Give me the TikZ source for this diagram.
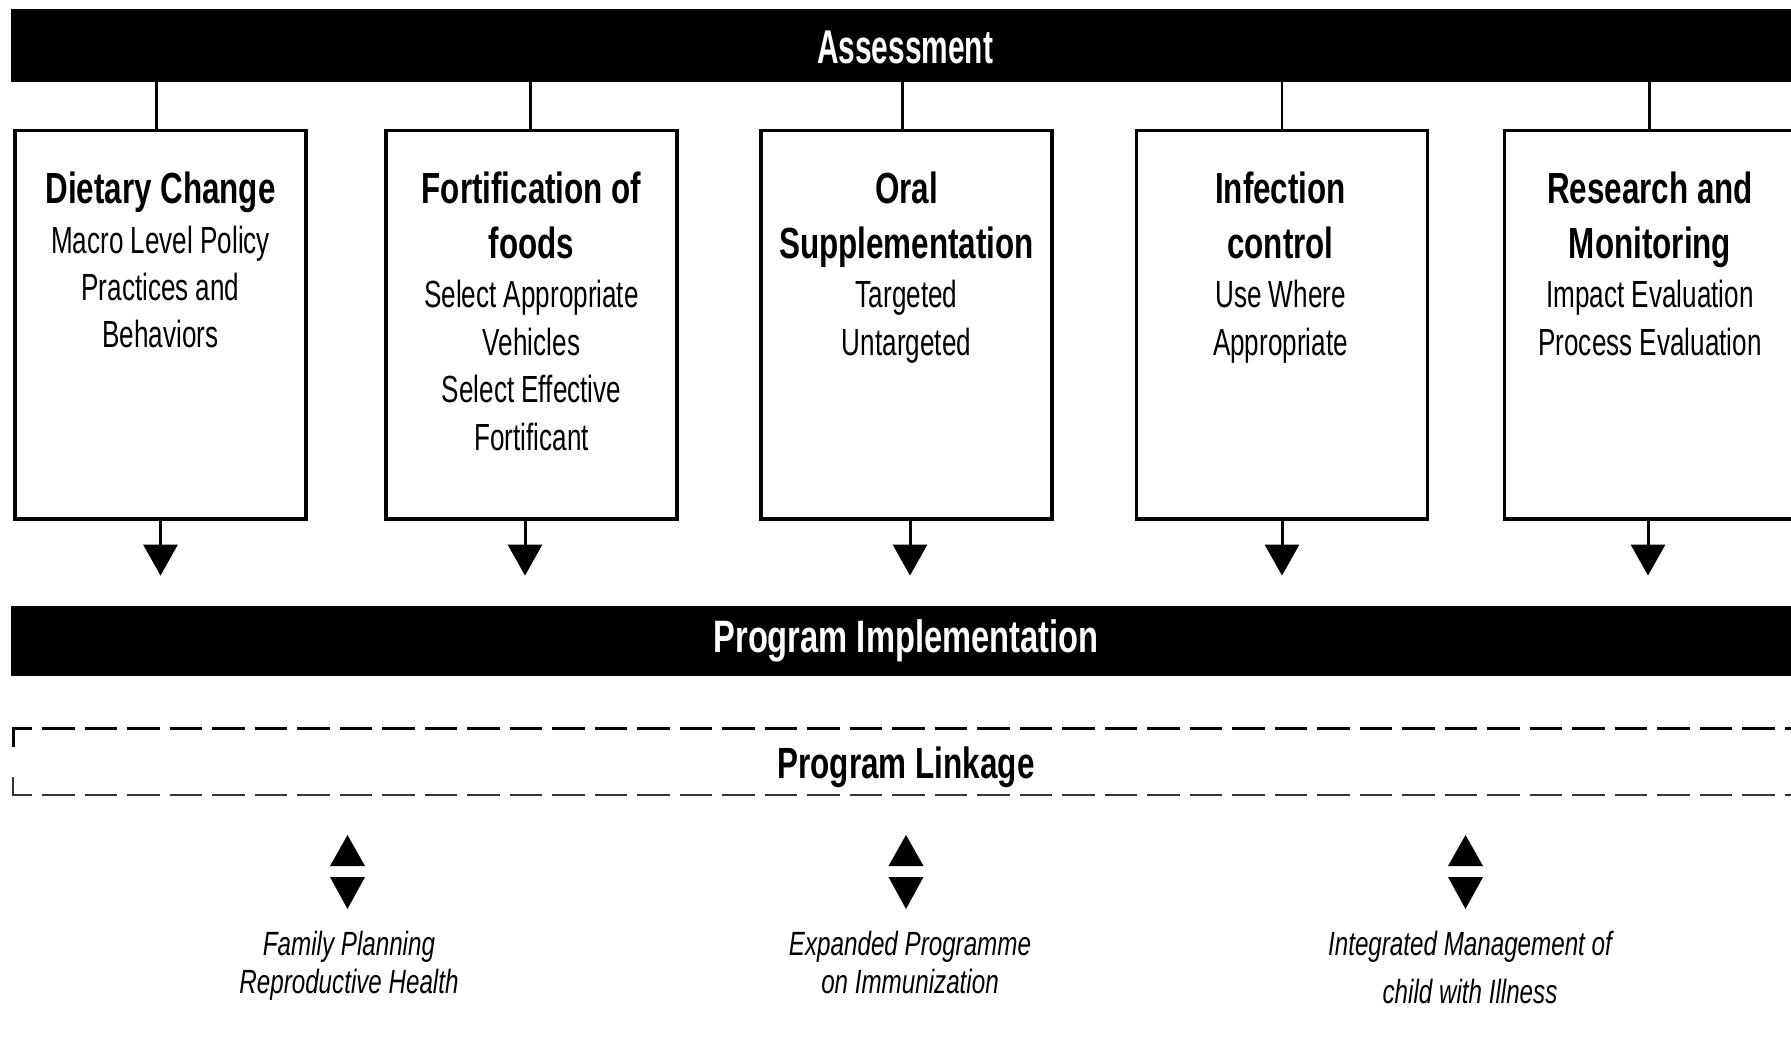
\documentclass[tikz,border=0pt]{standalone}
\usepackage{fontspec}
\setmainfont{Liberation Sans}
\newfontfamily\hdfam{Liberation Sans}[FakeStretch=0.72]
\newfontfamily\bdfam{Liberation Sans}[FakeStretch=0.69]
\newfontfamily\asfam{Liberation Sans}[FakeStretch=0.63]
\usetikzlibrary{arrows.meta}
\newcommand\dblarrow[1]{%
  \fill ([shift={(-17.5,-5)}]#1) -- ([shift={(0,-36)}]#1) -- ([shift={(17.5,-5)}]#1) -- cycle;
  \fill ([shift={(-17.5,6)}]#1) -- ([shift={(0,38)}]#1) -- ([shift={(17.5,6)}]#1) -- cycle;}
\begin{document}
\begin{tikzpicture}[x=0.5pt,y=-0.5pt,
  box/.style={draw, line width=1.75pt, minimum width=145.5pt, minimum height=194.25pt, inner sep=0pt},
  bar/.style={fill=black, minimum width=894.5pt, inner sep=0pt},
  hd/.style={anchor=base, inner sep=0pt, font=\hdfam\bfseries\fontsize{21.8}{26}\selectfont},
  bd/.style={anchor=base, inner sep=0pt, font=\bdfam\fontsize{18.9}{23}\selectfont},
  lk/.style={anchor=base, inner sep=0pt, font=\hdfam\itshape\fontsize{16.8}{20}\selectfont},
  stub/.style={line width=1.5pt},
  arr/.style={line width=1.5pt, -{Triangle[width=17pt,length=15.5pt]}, shorten >=15pt},
  dsh/.style={line width=1.5pt, dash pattern=on 16.25pt off 5pt},
]
\useasboundingbox (0,0) rectangle (1791,1038);
\clip (0,0) rectangle (1791,1038);
\fill[white] (0,0) rectangle (1791,1038);

% bars
\node[bar, minimum height=36.5pt] (assess) at (905.5,45.5) {};
\node[anchor=base, inner sep=0pt, text=white, font=\asfam\bfseries\fontsize{23.7}{28}\selectfont] (assesst) at (905,64) {Assessment};
\node[bar, minimum height=35pt] (impl) at (905.5,641) {};
\node[anchor=base, inner sep=0pt, text=white, font=\hdfam\bfseries\fontsize{22.7}{27}\selectfont] (implt) at (906,652) {Program Implementation};

% boxes
\node[box] (b1) at (160.5,324.75) {};
\node[box] (b2) at (531.5,324.75) {};
\node[box] (b3) at (906.5,324.75) {};
\node[box] (b4) at (1282,324.75) {};
\node[box] (b5) at (1650,324.75) {};

% box texts
\node[hd] (t1a) at (160.5,203.5) {Dietary Change};
\node[bd] (t1b) at (160.5,253.5) {Macro Level Policy};
\node[bd] (t1c) at (160.5,300) {Practices and};
\node[bd] (t1d) at (160.5,347) {Behaviors};

\node[hd] (t2a) at (531.5,203.5) {Fortification of};
\node[hd] (t2b) at (531.5,258) {foods};
\node[bd] (t2c) at (531.5,307) {Select Appropriate};
\node[bd] (t2d) at (531.5,355) {Vehicles};
\node[bd] (t2e) at (531.5,402) {Select Effective};
\node[bd] (t2f) at (531.5,450) {Fortificant};

\node[hd] (t3a) at (906.5,203.5) {Oral};
\node[hd] (t3b) at (906.5,258) {Supplementation};
\node[bd] (t3c) at (906.5,307) {Targeted};
\node[bd] (t3d) at (906.5,355) {Untargeted};

\node[hd] (t4a) at (1280.5,203.5) {Infection};
\node[hd] (t4b) at (1280.5,258) {control};
\node[bd] (t4c) at (1280.5,307) {Use Where};
\node[bd] (t4d) at (1280.5,355) {Appropriate};

\node[hd] (t5a) at (1650,203.5) {Research and};
\node[hd] (t5b) at (1650,258) {Monitoring};
\node[bd] (t5c) at (1650,307) {Impact Evaluation};
\node[bd] (t5d) at (1650,355) {Process Evaluation};

% stubs from Assessment
\draw[stub] ([xshift=-2.25pt]b1.north) -- ([xshift=-2.25pt]b1.north |- assess.south);
\draw[stub] ([xshift=-0.75pt]b2.north) -- ([xshift=-0.75pt]b2.north |- assess.south);
\draw[stub] ([xshift=-2.25pt]b3.north) -- ([xshift=-2.25pt]b3.north |- assess.south);
\draw[stub, line width=1.1pt] (b4.north) -- (b4.north |- assess.south);
\draw[stub] ([xshift=-0.5pt]b5.north) -- ([xshift=-0.5pt]b5.north |- assess.south);

% arrows to implementation
\draw[arr] (b1.south) -- (b1.south |- impl.north);
\draw[arr] ([xshift=-3.25pt]b2.south) -- ([xshift=-3.25pt]b2.south |- impl.north);
\draw[arr] ([xshift=1.75pt]b3.south) -- ([xshift=1.75pt]b3.south |- impl.north);
\draw[arr] (b4.south) -- (b4.south |- impl.north);
\draw[arr] ([xshift=-1pt]b5.south) -- ([xshift=-1pt]b5.south |- impl.north);

% program linkage dashed frame
\coordinate (lkTL) at (13,728);
\coordinate (lkBL) at (13,795);
\coordinate (lkTR) at (1800,728);
\coordinate (lkBR) at (1800,795);
\draw[line width=1.5pt] ([yshift=-9.5pt]lkTL) -- (lkTL) -- ([xshift=9.5pt]lkTL);
\draw[dsh] ([xshift=14.5pt]lkTL) -- (lkTR);
\draw[line width=1.3pt, black!80] ([yshift=9pt]lkBL) -- (lkBL) -- ([xshift=9.5pt]lkBL);
\draw[dsh, line width=1.3pt, black!80] ([xshift=14.5pt]lkBL) -- (lkBR);
\node[anchor=base, inner sep=0pt, font=\hdfam\bfseries\fontsize{21.85}{26}\selectfont] (linkt) at (906,778) {Program Linkage};

% double arrows
\coordinate (da1) at (347.5,871);
\coordinate (da2) at (906,871);
\coordinate (da3) at (1465.5,871);
\dblarrow{da1}
\dblarrow{da2}
\dblarrow{da3}

% linked programmes
\node[lk] (l1a) at (349,955) {Family Planning};
\node[lk] (l1b) at (349,993) {Reproductive Health};
\node[lk] (l2a) at (910,955) {Expanded Programme};
\node[lk] (l2b) at (910,993) {on Immunization};
\node[lk] (l3a) at (1470,955) {Integrated Management of};
\node[lk] (l3b) at (1470,1003) {child with Illness};
\end{tikzpicture}
\end{document}
